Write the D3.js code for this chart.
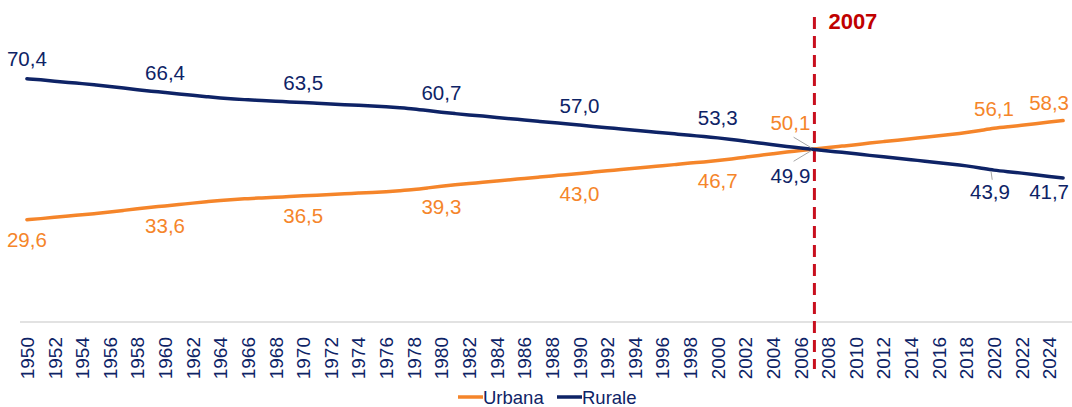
<!DOCTYPE html>
<html>
<head>
<meta charset="utf-8">
<script src="https://cdn.jsdelivr.net/npm/d3@7"></script>
<style>
  html, body { margin: 0; padding: 0; background: #fff; }
  svg { display: block; }
</style>
</head>
<body>
<svg id="chart"></svg>
<script>
// anni 1950-2025
const years = d3.range(1950, 2026);

// quota di popolazione urbana (%)
const urbana = [
  29.6, 29.9, 30.3, 30.7, 31.0, 31.4, 31.8, 32.3, 32.8, 33.2,
  33.6, 34.0, 34.4, 34.8, 35.2, 35.5, 35.7, 35.9, 36.1, 36.3,
  36.5, 36.7, 36.9, 37.1, 37.3, 37.5, 37.7, 38.0, 38.3, 38.8,
  39.3, 39.7, 40.1, 40.4, 40.8, 41.2, 41.5, 41.9, 42.3, 42.6,
  43.0, 43.4, 43.8, 44.1, 44.5, 44.9, 45.2, 45.6, 46.0, 46.3,
  46.7, 47.2, 47.7, 48.2, 48.7, 49.2, 49.6, 50.1, 50.5, 50.9,
  51.3, 51.8, 52.2, 52.6, 53.0, 53.5, 53.9, 54.3, 54.8, 55.4,
  56.1, 56.5, 56.9, 57.4, 57.9, 58.3
];

// quota di popolazione rurale (%)
const rurale = [
  70.4, 70.1, 69.7, 69.3, 69.0, 68.6, 68.2, 67.7, 67.2, 66.8,
  66.4, 66.0, 65.6, 65.2, 64.8, 64.5, 64.3, 64.1, 63.9, 63.7,
  63.5, 63.3, 63.1, 62.9, 62.7, 62.5, 62.3, 62.0, 61.7, 61.2,
  60.7, 60.3, 59.9, 59.6, 59.2, 58.8, 58.5, 58.1, 57.7, 57.4,
  57.0, 56.6, 56.2, 55.9, 55.5, 55.1, 54.8, 54.4, 54.0, 53.7,
  53.3, 52.8, 52.3, 51.8, 51.3, 50.8, 50.4, 49.9, 49.5, 49.1,
  48.7, 48.2, 47.8, 47.4, 47.0, 46.5, 46.1, 45.7, 45.2, 44.6,
  43.9, 43.5, 43.1, 42.6, 42.1, 41.7
];

// anni con etichetta del valore
const labelYears = [1950, 1960, 1970, 1980, 1990, 2000, 2007, 2020, 2025];
const tickYears = years.filter(y => y % 2 === 0);
const markerYear = 2007;

const series = [
  { name: "Urbana", values: urbana, color: "#F5852A" },
  { name: "Rurale", values: rurale, color: "#0E2366" }
];

const width = 1072, height = 407;
const font = "'Liberation Sans Narrow', 'Arial Narrow', 'Liberation Sans', Arial, sans-serif";
const navy = "#0E2366";

const svg = d3.select("#chart")
  .attr("width", width)
  .attr("height", height)
  .style("font-family", font);

const x = d3.scalePoint()
  .domain(years)
  .range([20, 1070])
  .padding(0.5);

const y = d3.scaleLinear()
  .domain([0, 90])
  .range([322, 11]);

// asse orizzontale
const xAxis = svg.append("g")
  .attr("transform", `translate(0, ${y(0)})`)
  .call(d3.axisBottom(x).tickValues(tickYears).tickSize(0).tickFormat(d3.format("d")));
xAxis.select(".domain")
  .attr("d", `M20,0H${width}`)
  .attr("stroke", "#D9D9D9")
  .attr("stroke-width", 1.5);
xAxis.selectAll(".tick text")
  .attr("fill", navy)
  .attr("font-size", 19)
  .attr("font-family", font)
  .attr("text-anchor", "end")
  .attr("dominant-baseline", "central")
  .attr("x", 0).attr("y", 0).attr("dy", null)
  .attr("transform", "translate(0, 15) rotate(-90)");

// linea tratteggiata 2007
svg.append("line")
  .attr("x1", x(markerYear)).attr("x2", x(markerYear))
  .attr("y1", 17).attr("y2", 369)
  .attr("stroke", "#C80F1E")
  .attr("stroke-width", 3)
  .attr("stroke-dasharray", "12,7");

svg.append("text")
  .attr("x", x(markerYear) + 14)
  .attr("y", 21)
  .attr("dominant-baseline", "central")
  .attr("fill", "#C00000")
  .attr("font-weight", "bold")
  .attr("font-size", 22)
  .text(markerYear);

// linee (smussate come in Excel)
const line = d3.line()
  .x((d, i) => x(years[i]))
  .y(d => y(d))
  .curve(d3.curveBasis);

svg.selectAll(".serie")
  .data(series)
  .join("path")
  .attr("class", "serie")
  .attr("fill", "none")
  .attr("stroke", d => d.color)
  .attr("stroke-width", 3.5)
  .attr("stroke-linecap", "round")
  .attr("d", d => line(d.values));

// etichette dei valori
const fmt = v => d3.format(".1f")(v).replace(".", ",");
const labels = [];
labelYears.forEach(yr => {
  const i = years.indexOf(yr);
  const top = urbana[i] > rurale[i] ? 0 : 1;
  series.forEach((s, k) => {
    const above = k === top;
    let dx = 0, dy = above ? -20 : 20, leader = false;
    if (yr === markerYear) { dx = -24; dy = above ? -26 : 26; leader = true; }
    if (yr === 2025) { dx = -14; dy = above ? -18 : 14; }
    if (yr === 2020 && !above) { dx = -4; dy = 21; leader = true; }
    labels.push({ yr, v: s.values[i], color: s.color, dx, dy, leader, above });
  });
});

svg.selectAll(".leader")
  .data(labels.filter(d => d.leader))
  .join("line")
  .attr("class", "leader")
  .attr("x1", d => x(d.yr) + d.dx * 0.95 + 2)
  .attr("y1", d => y(d.v) + d.dy * 0.45)
  .attr("x2", d => x(d.yr) - 3)
  .attr("y2", d => y(d.v) + (d.above ? -1 : 1))
  .attr("stroke", "#A6A6A6")
  .attr("stroke-width", 1);

svg.selectAll(".lbl")
  .data(labels)
  .join("text")
  .attr("class", "lbl")
  .attr("x", d => x(d.yr) + d.dx)
  .attr("y", d => y(d.v) + d.dy)
  .attr("text-anchor", "middle")
  .attr("dominant-baseline", "central")
  .attr("fill", d => d.color)
  .attr("font-size", 20.5)
  .text(d => fmt(d.v));

// legenda
const legend = svg.append("g").attr("transform", "translate(458, 397)");
const items = legend.selectAll("g")
  .data(series)
  .join("g")
  .attr("transform", (d, i) => `translate(${i * 99}, 0)`);
items.append("line")
  .attr("x1", 0).attr("x2", 25)
  .attr("stroke", d => d.color)
  .attr("stroke-width", 3.5);
items.append("text")
  .attr("x", 25)
  .attr("dominant-baseline", "central")
  .attr("fill", navy)
  .attr("font-size", 18.5)
  .text(d => d.name);
</script>
</body>
</html>
